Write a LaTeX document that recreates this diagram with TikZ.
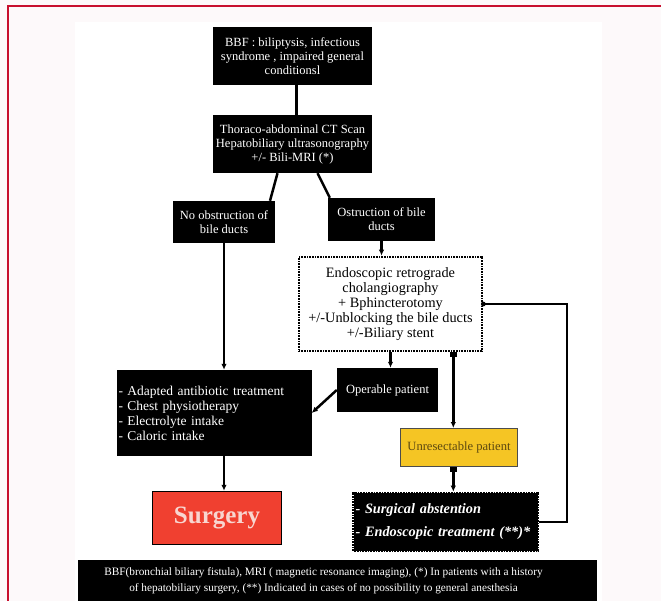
\documentclass[tikz,border=0pt]{standalone}
\usepackage{fontspec}
\setmainfont{Liberation Serif}
\usetikzlibrary{arrows.meta,calc}
\definecolor{framered}{RGB}{200,16,46}
\definecolor{pagepink}{RGB}{253,249,250}
\definecolor{unresyellow}{RGB}{245,197,36}
\definecolor{unrestext}{RGB}{92,72,16}
\definecolor{surgred}{RGB}{240,64,48}
\definecolor{surgtext}{RGB}{248,214,208}
\tikzset{
  darkbox/.style={fill=black, text=white, align=center, inner sep=2pt, font=\fontsize{12.5}{14}\selectfont},
  dotbox/.style={draw=black, line width=2.6pt, dash pattern=on 0.8pt off 0.8pt},
  link/.style={line width=2.5pt, -{Latex[length=6pt,width=5.5pt]}},
  bare/.style={line width=2.5pt},
}
\begin{document}
\begin{tikzpicture}[x=1pt,y=-1pt]
\useasboundingbox (0,0) rectangle (661,601);
\fill[pagepink] (0,0) rectangle (661,601);
\fill[white] (75,22) rectangle (602,601);
\draw[framered, line width=1.5pt] (8,601) -- (8,6) -- (661,6);
\def\xleft{224};
\def\xmid{292.5};
\def\xright{390.5};
% upper part
\node[darkbox, minimum width=159pt, minimum height=58pt] (bbf) at (\xmid,56)
  {BBF : biliptysis, infectious\\ syndrome , impaired general\\ conditionsl};
\node[darkbox, minimum width=159pt, minimum height=58pt] (scan) at (\xmid,144)
  {Thoraco-abdominal CT Scan\\ Hepatobiliary ultrasonography\\ +/- Bili-MRI (*)};
\node[darkbox, minimum width=102pt, minimum height=42pt] (noobs) at (\xleft,222)
  {No obstruction of\\ bile ducts};
\node[darkbox, minimum width=107pt, minimum height=43pt] (obs) at (381.5,219.5)
  {Ostruction of bile\\ ducts};
\node[dotbox, fill=white, align=center, minimum width=183pt, minimum height=94pt, inner sep=1pt,
  font=\fontsize{14.3}{15}\selectfont] (ercp) at (\xright,304)
  {Endoscopic retrograde\\ cholangiography\\ + Bphincterotomy\\ +/-Unblocking the bile ducts\\ +/-Biliary stent};
% lower part
\node[darkbox, align=left, text width=191pt, minimum height=86pt, inner sep=2pt,
  font=\fontsize{13.5}{15}\selectfont] (treat) at (214,413)
  {- Adapted antibiotic treatment\\ - Chest physiotherapy\\ - Electrolyte intake\\ - Caloric intake};
\node[darkbox, minimum width=101pt, minimum height=44pt] (oper) at (387.5,390) {Operable patient};
\node[draw=black!70, line width=1pt, fill=unresyellow, text=unrestext, minimum width=117pt,
  minimum height=38pt, font=\fontsize{12.6}{14}\selectfont] (unres) at (459,447.5) {Unresectable patient};
\node[dotbox, fill=black, text=white, align=left, text width=180pt, minimum height=58pt, inner sep=2pt,
  font=\fontsize{14.3}{23}\selectfont\bfseries\itshape] (pall) at (445.5,522)
  {- Surgical abstention\\ - Endoscopic treatment (**)*};
\node[draw=black, line width=1.5pt, fill=surgred, text=surgtext, minimum width=129pt,
  minimum height=53pt, font=\fontsize{25}{27}\selectfont\bfseries] (surg) at (217,518) {Surgery};
% footnote
\node[fill=black, minimum width=519pt, minimum height=41pt] (notes) at (337.5,580.5) {};
\node[text=white, align=center, inner sep=0pt, font=\fontsize{11.3}{16}\selectfont] (notestext)
  at ($(notes.center)+(-14,0)$)
  {BBF(bronchial biliary fistula), MRI ( magnetic resonance imaging), (*) In patients with a history\\
   of hepatobiliary surgery, (**) Indicated in cases of no possibility to general anesthesia};
% connectors
\draw[bare] ($(bbf.south)+(4,0)$) -- ($(scan.north)+(4,0)$);
\draw[bare] ($(scan.south)+(-15,0)$) -- ($(noobs.north)+(46,0)$);
\draw[bare] ($(scan.south)+(25,0)$) -- ($(obs.north west)+(2,0)$);
\draw[link] (noobs.south) -- (noobs.south |- treat.north);
\draw[link] (obs.south) -- (obs.south |- ercp.north);
\draw[link] (ercp.south) -- (ercp.south |- oper.north);
\draw[link] (oper.west) -- (treat.east);
\draw[link] (noobs.south |- treat.south) -- (noobs.south |- surg.north);
\draw[link, {Square[length=5pt,width=7pt]}-{Latex[length=6pt,width=5.5pt]}]
  ($(ercp.south east)+(-30,0)$) coordinate (split) -- (split |- unres.north);
\draw[link, {Square[length=5pt,width=7pt]}-{Latex[length=6pt,width=5.5pt]}]
  (split |- unres.south) -- (split |- pall.north);
\draw[bare, line width=2pt] (ercp.east) -- ++(84,0) coordinate (turn) |- (pall.east);
\fill (ercp.east) circle (2.4pt);
\end{tikzpicture}
\end{document}
